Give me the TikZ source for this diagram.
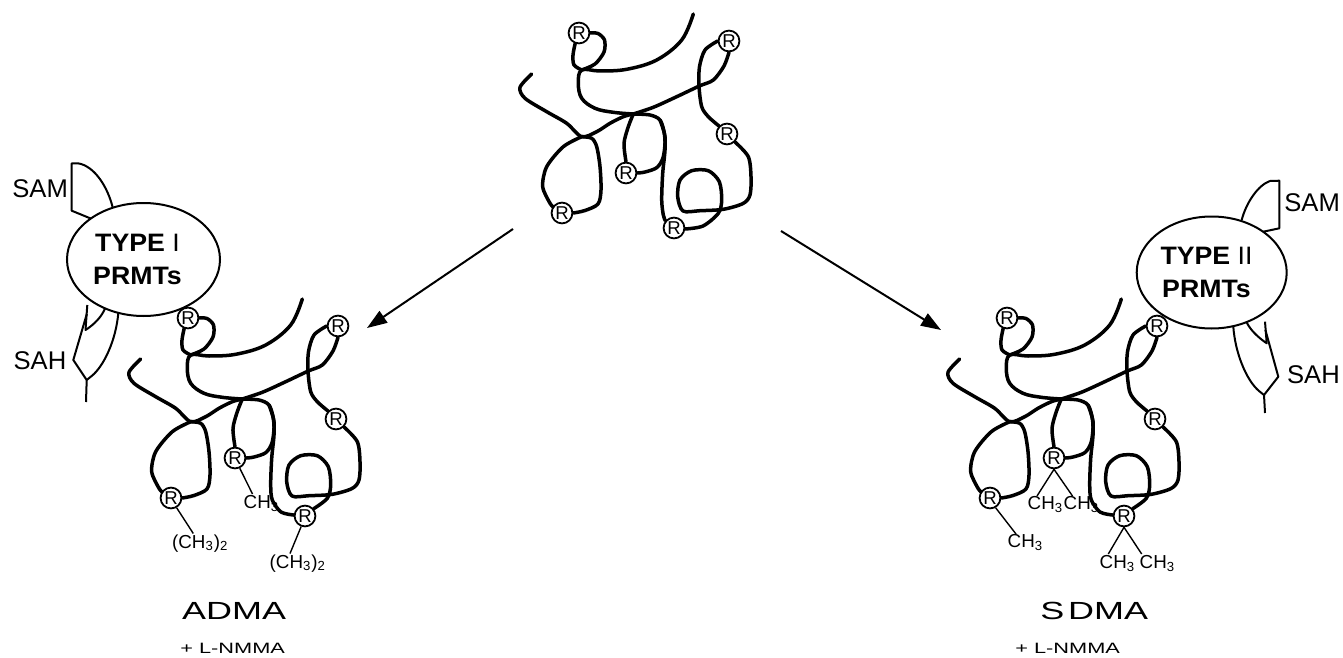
\documentclass[tikz,border=0pt]{standalone}
\usepackage{fontspec}
\setmainfont{Liberation Sans}
\newfontfamily\widesans[FakeStretch=1.06]{Liberation Sans}
\newfontfamily\xwide[FakeStretch=1.45]{Liberation Sans}
\usetikzlibrary{arrows.meta,shapes.geometric}
\tikzset{
  strand/.style={line width=1.75pt, line cap=round, line join=round},
  thinline/.style={line width=1pt, line join=round},
  methyl/.style={line width=0.7pt},
  rc/.style={circle, draw, line width=0.9pt, minimum size=10.4pt, inner sep=0pt, font=\fontsize{9.3}{9.3}\selectfont},
  lbl/.style={inner sep=0pt, font=\fontsize{12.8}{15}\selectfont},
  me/.style={inner sep=0pt, font=\fontsize{9.4}{10}\selectfont},
  small/.style={inner sep=0pt, font=\xwide\fontsize{7.5}{9}\selectfont},
  big/.style={inner sep=0pt, font=\xwide\fontsize{12.4}{15}\selectfont},
  enz/.style={ellipse, draw, line width=1pt, inner sep=0pt, fill=white},
  enztxt/.style={inner sep=0pt, align=center, font=\widesans\bfseries\fontsize{12.6}{16.2}\selectfont},
  arr/.style={line width=1pt, -{Triangle[length=10pt,width=7pt]}},
}
% #1 prefix, #2 R6 position, #3 tail of thick strand, #4 tail of loop strand
\newcommand\prot[4]{%
  \node[rc] (#1a) at (579,33) {R};
  \node[rc] (#1b) at (729,41) {R};
  \node[rc] (#1c) at (727,134) {R};
  \node[rc] (#1d) at (626,173) {R};
  \node[rc] (#1e) at (562,213) {R};
  \node[rc] (#1f) at #2 {R};
  \coordinate (#1J) at (633.3,114);
  \coordinate (#1K) at (581.7,70);
  \coordinate (#1C) at (581.7,136.7);
  % long arc from the top right end
  \draw[strand] plot[smooth,tension=0.6] coordinates {(693.3,14) (681.7,40) (656.7,60) (626.7,69.3) (600,71) (#1K) (578.3,83.3) (581.7,98.3) (595,108.3) (613.3,112.3) (#1J)};
  % R1 loop
  \draw[strand] plot[smooth] coordinates {(#1a.east) (598,33.5) (604.5,40) (604,52) (595,64) (#1K)};
  \draw[strand] plot[smooth] coordinates {(#1a.250) (573,55) (574,65) (#1K)};
  % left strand
  \draw[strand] plot[smooth] coordinates {(531.7,74) (520,87.3) (525,98.3) (546.7,111.7) (566.7,123.3) (#1C) (596.7,131.7) (610,123.3) (623.3,116.7) (#1J)};
  % lower left loop with R5
  \draw[strand] plot[smooth] coordinates {(#1C) (563.3,146.7) (546.7,166.7) (542.7,186.7) (550,203.3) (#1e.145)};
  \draw[strand] plot[smooth] coordinates {(#1e.east) (585,210.5) (598,204) (601,190) (600,166.7) (596.7,146.7) (591.7,138.3) (#1C)};
  % J to the right, R2 loop
  \draw[strand] plot[smooth] coordinates {(#1J) (653.3,107.3) (676.7,96.7) (699.3,86) (713.3,80) (724,66) (#1b.south)};
  \draw[strand] plot[smooth] coordinates {(#1b.west) (705,50) (699.5,66.7) (699,86) (701.7,106.7) (708.3,116.7) (#1c.135)};
  % R3 down, inner loop, to R6
  \draw[strand] plot[smooth] coordinates {(#1c.-45) (748.3,156.7) (751,176.7) (750,195) (743,203.5) (723.3,209.3) (700,210.7) (683,211) (677.7,196.7) (680,180) (691.7,170.7) (708.3,170.7) (719.3,181.7) (721.7,200) (718.3,213.3) #4};
  % thick strand J to R6
  \draw[strand] plot[smooth] coordinates {(#1J) (650,115) (660,120) (664.3,133.3) (665,150) (662.7,173.3) (661.7,200) (663.3,215) #3};
  % R4 loop
  \draw[strand] plot[smooth] coordinates {(#1J) (628.3,126.7) (624,143.3) (#1d.north)};
  \draw[strand] plot[smooth] coordinates {(#1d.east) (645,172) (657,167.5) (663.3,156.7) (665,136.7) (660,120)};
}
\begin{document}
\begin{tikzpicture}[x=0.5pt,y=-0.5pt]
\useasboundingbox (0,0) rectangle (1343,658);

% top (unmodified) protein
\prot{T}{(674,228)}{(Tf.140)}{(703,226) (Tf.-5)}

% left copy (ADMA)
\begin{scope}[shift={(-391,285)}]
\prot{L}{(696,231)}{(672,227) (Lf.175)}{(Lf.40)}
\end{scope}

% right copy (SDMA)
\begin{scope}[shift={(428,285)}]
\prot{G}{(696,231)}{(672,227) (Gf.175)}{(Gf.40)}
\end{scope}

% arrows
\coordinate (a1s) at (513,229);
\coordinate (a1e) at (367,328);
\coordinate (a2s) at (781,231);
\coordinate (a2e) at (941,330);
\draw[arr] (a1s) -- (a1e);
\draw[arr] (a2s) -- (a2e);

% ---- left enzyme ----
\draw[thinline] (112.7,207.5) .. controls (108,188) and (95,166) .. (78,163.3) -- (71.7,163.3) -- (71.7,210.7) -- (90.7,218.5);
\draw[thinline] (87.3,305) -- (85.5,330) .. controls (95,324) and (102,316) .. (105,308.5);
\draw[thinline] (86.8,314) -- (73.3,360) -- (86.7,380) -- (86,402);
\draw[thinline] (118.3,313) .. controls (116,340) and (104,366) .. (91.7,376) -- (86.7,380);
\node[enz, minimum width=76.5pt, minimum height=56.5pt] (enzL) at (143.5,259.5) {};
\node[enztxt] (typL) at (137.5,259.5) {TYPE \textmd{I}\\PRMTs};
\node[lbl, anchor=base east] (samL) at (68.3,197.3) {SAM};
\node[lbl, anchor=base east] (sahL) at (66.7,369.3) {SAH};

% ---- right enzyme ----
\draw[thinline] (1241.7,220) .. controls (1246,203) and (1258,185) .. (1270,181) -- (1279.3,180.7) -- (1279.3,228.3) -- (1263.3,231.7);
\draw[thinline] (1265,321.7) -- (1266.7,343.3) .. controls (1259,338) and (1251,331) .. (1246.7,322.5);
\draw[thinline] (1265.4,330) -- (1278.3,376.7) -- (1264,395) -- (1265,413);
\draw[thinline] (1233.3,326.5) .. controls (1235,352) and (1246,380) .. (1259,391) -- (1264,395);
\node[enz, minimum width=75pt, minimum height=56pt] (enzR) at (1211.7,272.5) {};
\node[enztxt] (typR) at (1206.5,272.5) {TYPE \textmd{II}\\PRMTs};
\node[lbl, anchor=base west] (samR) at (1284,211.7) {SAM};
\node[lbl, anchor=base west] (sahR) at (1286.7,383.3) {SAH};

% ---- methyl groups, left (ADMA) ----
\node[me, anchor=base west] (m1) at (243.3,508.3) {CH\textsubscript{3}};
\coordinate (m1t) at (252.5,494);
\draw[methyl] (Ld.-65) -- (m1t);
\node[me, anchor=base west] (m2) at (171.7,548) {(CH\textsubscript{3})\textsubscript{2}};
\coordinate (m2t) at (193.3,533.5);
\draw[methyl] (Le.-60) -- (m2t);
\node[me, anchor=base west] (m3) at (269.3,568) {(CH\textsubscript{3})\textsubscript{2}};
\coordinate (m3t) at (290,553.5);
\draw[methyl] (Lf.-110) -- (m3t);

% ---- methyl groups, right (SDMA) ----
\node[me, anchor=base west] (n1) at (1027.3,509.3) {CH\textsubscript{3}};
\node[me, anchor=base west] (n2) at (1063.3,509.3) {CH\textsubscript{3}};
\coordinate (n1t) at (1037,496);
\coordinate (n2t) at (1072.5,496);
\draw[methyl] (Gd.south) -- (n1t);
\draw[methyl] (Gd.south) -- (n2t);
\node[me, anchor=base west] (n3) at (1007.3,547.3) {CH\textsubscript{3}};
\coordinate (n3t) at (1016,534);
\draw[methyl] (Ge.-60) -- (n3t);
\node[me, anchor=base west] (n4) at (1099.3,568.3) {CH\textsubscript{3}};
\node[me, anchor=base west] (n5) at (1139.3,568.3) {CH\textsubscript{3}};
\coordinate (n4t) at (1108.3,554);
\coordinate (n5t) at (1141.7,554);
\draw[methyl] (Gf.south) -- (n4t);
\draw[methyl] (Gf.south) -- (n5t);

% ---- bottom labels ----
\node[big, anchor=base west] (adma) at (181.7,619.3) {ADMA};
\node[small, anchor=base west] (nmL) at (180,653) {+ L-NMMA};
\node[big, anchor=base west] (sdma) at (1040,619.3) {S\kern.15em DMA};
\node[small, anchor=base west] (nmR) at (1015,653) {+ L-NMMA};
\end{tikzpicture}
\end{document}
